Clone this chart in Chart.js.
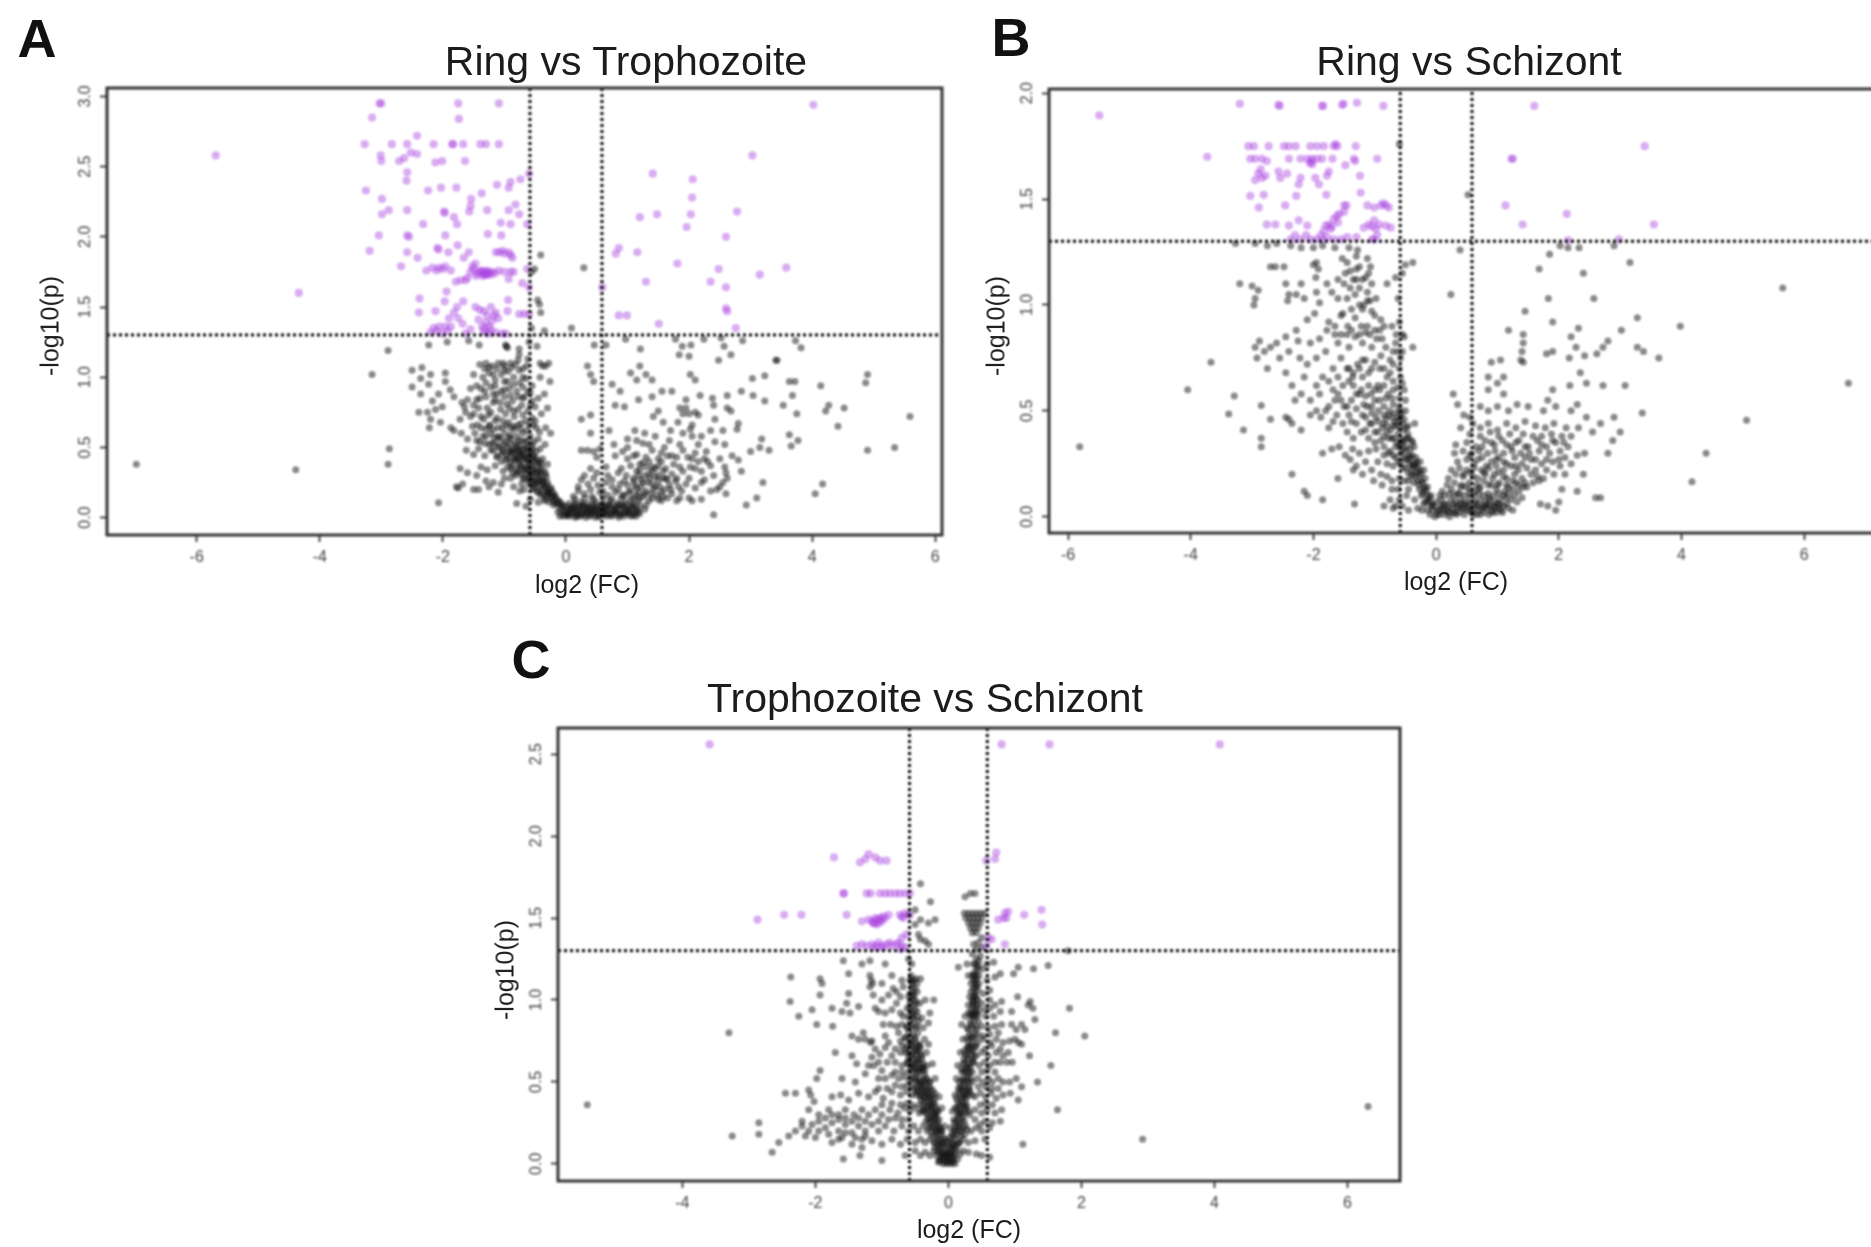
<!DOCTYPE html>
<html>
<head>
<meta charset="utf-8">
<title>Volcano plots</title>
<script src="https://cdn.jsdelivr.net/npm/chart.js@4"></script>
<style>
  html, body { margin: 0; padding: 0; background: #fff; }
  body { position: relative; width: 1871px; height: 1247px; overflow: hidden; font-family: "Liberation Sans", Arial, sans-serif; }
  canvas { position: absolute; filter: blur(0.9px); }
  .txt { position: absolute; color: #1c1c1c; white-space: nowrap; transform: translate(-50%, -50%); filter: blur(0.4px); }
  .letter { font-size: 54px; font-weight: bold; color: #111; }
  .title { font-size: 41px; }
  .axis { font-size: 25px; }
  .rot { transform: translate(-50%, -50%) rotate(-90deg); }
</style>
</head>
<body>
<canvas id="chartA" width="960" height="540" style="left:0;top:60px"></canvas>
<canvas id="chartB" width="925" height="540" style="left:960px;top:60px"></canvas>
<canvas id="chartC" width="960" height="547" style="left:480px;top:700px"></canvas>

<div class="txt letter" style="left:37px;top:38px">A</div>
<div class="txt letter" style="left:1011px;top:37px">B</div>
<div class="txt letter" style="left:531px;top:659px">C</div>
<div class="txt title" style="left:626px;top:61px">Ring vs Trophozoite</div>
<div class="txt title" style="left:1469px;top:61px">Ring vs Schizont</div>
<div class="txt title" style="left:925px;top:698px">Trophozoite vs Schizont</div>
<div class="txt axis" style="left:587px;top:584px">log2 (FC)</div>
<div class="txt axis" style="left:1456px;top:581px">log2 (FC)</div>
<div class="txt axis" style="left:969px;top:1229px">log2 (FC)</div>
<div class="txt axis rot" style="left:50px;top:326px">-log10(p)</div>
<div class="txt axis rot" style="left:996px;top:326px">-log10(p)</div>
<div class="txt axis rot" style="left:505px;top:970px">-log10(p)</div>

<script>
const fcCut = 0.585;
const pCut = 1.301;

const xTicksA = [-6, -4, -2, 0, 2, 4, 6];
const yTicksA = [0, 0.5, 1, 1.5, 2, 2.5, 3];
const xTicksB = [-6, -4, -2, 0, 2, 4, 6];
const yTicksB = [0, 0.5, 1, 1.5, 2];
const xTicksC = [-4, -2, 0, 2, 4, 6];
const yTicksC = [0, 0.5, 1, 1.5, 2, 2.5];

// Ring vs Trophozoite, significant
const sigA = [[-3.03,2.95],[-3,2.95],[-1.75,2.95],[-1.09,2.95],[-3.15,2.85],[-1.74,2.84],[-2.42,2.72],[-3.27,2.66],[-2.83,2.66],[-2.58,2.66],[-2.15,2.66],[-1.85,2.66],[-1.83,2.66],[-1.67,2.66],[-1.39,2.66],[-1.3,2.66],[-1.09,2.66],
[-3.01,2.58],[-3,2.54],[-2.52,2.6],[-2.42,2.59],[-2.63,2.56],[-2.71,2.54],[-2.12,2.53],[-2.01,2.54],[-1.64,2.54],[-2.58,2.46],[-2.59,2.4],[-0.6,2.45],[-0.74,2.41],[-0.9,2.39],[-0.93,2.35],[-1.12,2.37],[-3.25,2.33],[-2.24,2.33],[-2.03,2.35],[-1.78,2.35],[-1.37,2.31],
[-2.99,2.27],[-1.54,2.27],[-1.55,2.22],[-1.57,2.18],[-0.82,2.23],[-0.93,2.19],[-0.76,2.16],[-2.58,2.19],[-2.88,2.19],[-2.99,2.16],[-1.98,2.18],[-1.97,2.17],[-1.82,2.14],[-1.77,2.09],[-1.28,2.19],[-2.32,2.09],[-1.06,2.1],[-0.9,2.09],[-0.63,2.09],
[-3.04,2.01],[-2.58,2.01],[-2.55,2],[-1.96,2.01],[-1.27,2.02],[-1.05,2.01],[-3.19,1.9],[-2.58,1.89],[-2.09,1.92],[-2.07,1.91],[-1.76,1.94],[-1.91,1.89],[-1.58,1.89],[-1.66,1.85],[-1.14,1.89],[-1.03,1.9],[-0.93,1.89],[-0.87,1.85],[-1,1.88],[-1.09,1.89],[-0.9,1.87],
[-2.41,1.85],[-2.68,1.79],[-2.27,1.76],[-2.17,1.78],[-2.06,1.78],[-1.96,1.79],[-1.87,1.76],[-2.1,1.76],[-2,1.77],[-1.55,1.75],[-1.5,1.77],[-1.41,1.75],[-1.33,1.75],[-1.28,1.73],[-1.2,1.75],[-1.09,1.76],[-0.9,1.75],[-0.85,1.75],[-1.31,1.73],[-1.38,1.76],[-1.52,1.79],[-1.47,1.81],[-1.3,1.74],[-1.25,1.75],[-1.35,1.72],[-1,1.75],[-0.63,1.77],[-1.27,1.74],[-1.33,1.73],[-1.44,1.74],[-1.22,1.73],[-1.29,1.76],[-1.36,1.75],[-1.46,1.72],[-1.15,1.74],
[-1.63,1.69],[-1.79,1.68],[-1.71,1.69],[-1.6,1.71],[-0.93,1.7],[-0.71,1.67],[-1.94,1.61],[-0.6,1.64],[-2.38,1.56],[-1.97,1.54],[-1.67,1.54],[-0.94,1.55],[-2.39,1.46],[-2.12,1.47],[-1.82,1.46],[-1.77,1.5],[-1.47,1.5],[-1.33,1.47],[-1.14,1.46],[-0.95,1.47],[-0.76,1.45],[-0.68,1.45],[-0.6,1.45],[-1.4,1.48],[-1.75,1.42],[-1.22,1.5],[-1.1,1.42],[-1.42,1.41],[-1.9,1.42],
[-2.15,1.35],[-2.06,1.36],[-1.96,1.36],[-1.87,1.36],[-1.68,1.38],[-1.55,1.34],[-1.36,1.36],[-1.25,1.36],[-1.2,1.4],[-1.3,1.39],[-1.17,1.44],[-1.28,1.44],[-0.98,1.31],[-2.2,1.32],[-2.01,1.31],[-1.63,1.31],[-1.31,1.32],[-1.14,1.32],[-1.03,1.31],[-1.26,1.31],[-2.1,1.33],[-1.92,1.33],[-1.22,1.34],[-1.34,1.34],
[4.02,2.94],[3.03,2.58],[1.41,2.45],[2.06,2.41],[2.05,2.28],[2.78,2.18],[2.03,2.16],[1.48,2.16],[1.2,2.14],[1.96,2.07],[2.6,2],[0.86,1.92],[0.81,1.88],[1.16,1.89],[1.81,1.81],[2.48,1.77],[3.58,1.78],[3.15,1.73],[1.3,1.68],[2.35,1.68],[2.6,1.64],[0.59,1.64],[0.86,1.44],[0.99,1.44],[2.6,1.49],[2.62,1.47],[1.51,1.38],[2.76,1.35],[-5.69,2.58],[-4.34,1.6]];

// Ring vs Trophozoite, not significant
const nsA = [[0.29,1.78],[-0.41,1.87],[-0.51,1.77],[-0.56,1.75],[-0.46,1.55],[-0.43,1.52],[-0.41,1.46],[0.09,1.35],[-0.56,1.35],[-0.35,1.33],
[-2.89,1.19],[-3.15,1.02],[-2.23,1.23],[-1.93,1.25],[-1.58,1.26],[-1.41,1.23],[-0.98,1.23],[-0.97,1.22],[-0.95,1.21],[-0.76,1.2],[-0.76,1.16],[-0.6,1.25],[-0.47,1.22],[0.46,1.23],[0.65,1.23],[1.21,1.2],[0.97,1.27],[1.78,1.27],[1.89,1.22],[2.03,1.23],[1.84,1.16],[2,1.15],[2.24,1.27],[2.52,1.28],[2.57,1.22],[2.87,1.26],[3.73,1.26],[3.82,1.21],[2.68,1.16],[2.48,1.12],[3.41,1.12],
[-2.5,1.05],[-2.34,1.07],[-2.2,1.02],[-2.36,0.99],[-2.23,0.95],[-2.5,0.93],[-1.96,1.03],[-1.96,0.97],[-2.36,0.88],[-1.88,0.91],[-2.07,0.88],[-2.17,0.83],[-1.82,0.86],[-1.69,0.82],[-1.65,0.79],[-1.63,0.75],[-2.39,0.75],[-2.25,0.75],[-2.12,0.77],[-2.01,0.79],[-2.2,0.7],[-2.04,0.68],[-2.22,0.64],[-1.87,0.64],[-1.82,0.62],
[-1.4,1.09],[-1.3,1.1],[-1.2,1.08],[-1.1,1.1],[-1,1.08],[-0.9,1.1],[-0.78,1.12],[-0.7,1.06],[-0.62,1.13],[-0.42,1.1],[-0.38,1.08],[-0.33,1.08],[-0.28,1.1],[-0.42,1],[-1.5,1.02],[-1.35,1],[-1.25,1.03],[-1.15,0.98],[-1.05,1.02],[-0.95,0.97],[-0.85,1],[-0.75,0.96],[-0.65,0.99],[-0.55,0.94],[-0.26,0.97],
[-1.55,0.92],[-1.45,0.94],[-1.32,0.9],[-1.22,0.93],[-1.12,0.88],[-1,0.91],[-0.9,0.87],[-0.8,0.9],[-0.68,0.86],[-0.58,0.89],[-0.45,0.85],[-0.35,0.88],[-1.6,0.84],[-1.5,0.8],[-1.4,0.85],[-1.28,0.78],[-1.18,0.82],[-1.06,0.77],[-0.96,0.81],[-0.85,0.76],[-0.72,0.8],[-0.62,0.76],[-0.5,0.79],[-0.4,0.74],[-0.3,0.78],
[-1.72,0.7],[-1.55,0.72],[-1.44,0.66],[-1.34,0.7],[-1.25,0.65],[-1.15,0.69],[-1.03,0.64],[-0.93,0.68],[-0.83,0.63],[-0.73,0.67],[-0.63,0.62],[-0.53,0.66],[-0.43,0.61],[-0.33,0.64],[-0.25,0.6],[-1.7,0.6],[-1.6,0.56],[-1.48,0.6],[-1.4,0.54],[-1.3,0.58],[-1.2,0.53],[-1.1,0.57],[-1,0.52],[-0.9,0.56],[-0.8,0.51],[-0.72,0.55],[-0.62,0.5],[-0.52,0.54],[-0.42,0.49],[-0.34,0.52],
[-1.62,0.48],[-1.5,0.45],[-1.42,0.49],[-1.32,0.44],[-1.22,0.48],[-1.12,0.43],[-1.02,0.47],[-0.94,0.42],[-0.86,0.46],[-0.78,0.41],[-0.7,0.45],[-0.62,0.4],[-0.54,0.44],[-0.46,0.39],[-0.38,0.42],[-0.3,0.38],[-0.72,0.36],[-0.64,0.34],[-0.56,0.37],[-0.48,0.33],[-0.4,0.35],[-0.33,0.31],
[-1.72,0.35],[-1.6,0.32],[-1.38,0.36],[-1.28,0.34],[-1.15,0.37],[-1.02,0.33],[-0.9,0.35],[-0.82,0.3],[-0.7,0.28],[-0.6,0.29],[-0.52,0.26],[-0.44,0.27],[-0.37,0.24],[-0.3,0.25],[-0.24,0.21],[-1.78,0.22],[-1.68,0.24],[-1.42,0.2],[-1.18,0.25],[-1.05,0.24],[-0.85,0.22],[-0.75,0.19],[-0.55,0.2],[-0.46,0.18],[-0.38,0.17],[-0.3,0.18],[-0.24,0.14],[-0.18,0.15],[-0.58,0.13],[-0.8,0.1],[-0.65,0.08],[-0.45,0.11],[-0.35,0.12],[-0.2,0.09],[-0.15,0.1],[-0.1,0.06],[-0.13,0.04],[-0.08,0.09],
[-0.06,0.02],[-0.02,0.01],[0.02,0.03],[0.05,0.01],[0.08,0.04],[0.12,0.02],[0.15,0],[0.18,0.03],[0.22,0.01],[0.25,0.04],[0.28,0.02],[0.32,0],[0.35,0.03],[0.38,0.01],[0.42,0.04],[0.45,0.02],[0.48,0],[0.52,0.03],[0.55,0.01],[0.58,0.04],[0.62,0.02],[0.66,0.01],[0.7,0.03],[0.74,0.01],[0.78,0.04],[0.82,0.02],[0.86,0],[0.9,0.03],[0.94,0.01],[0.98,0.04],[1.02,0.02],[1.06,0.01],[1.1,0.03],[1.14,0.01],[1.2,0.03],
[0,0.05],[0.05,0.06],[0.1,0.07],[0.16,0.05],[0.22,0.07],[0.28,0.06],[0.34,0.07],[0.4,0.05],[0.46,0.07],[0.52,0.06],[0.58,0.07],[0.64,0.05],[0.7,0.07],[0.76,0.06],[0.82,0.07],[0.88,0.05],[0.94,0.07],[1,0.06],[1.08,0.07],[1.16,0.05],[0.05,0.1],[0.14,0.1],[0.25,0.11],[0.36,0.1],[0.48,0.11],[0.6,0.1],[0.72,0.12],[0.84,0.1],[0.96,0.11],[1.08,0.1],[1.18,0.12],[1.3,0.09],
[0.12,0.15],[0.3,0.17],[0.42,0.15],[0.55,0.18],[0.68,0.16],[0.8,0.18],[0.92,0.16],[1.02,0.18],[1.14,0.16],[1.26,0.15],[1.4,0.14],[1.55,0.12],[0.2,0.22],[0.36,0.24],[0.52,0.23],[0.65,0.25],[0.75,0.22],[0.88,0.24],[1,0.23],[1.1,0.26],[1.22,0.22],[1.33,0.25],[1.45,0.22],[1.6,0.2],[1.72,0.17],[1.85,0.14],[2.05,0.12],[2.4,0.02],[2.6,0.17],[2.93,0.09],[3.1,0.14],
[0.3,0.3],[0.5,0.32],[0.68,0.3],[0.85,0.32],[0.98,0.3],[1.15,0.33],[1.28,0.3],[1.4,0.33],[1.5,0.3],[1.65,0.27],[1.8,0.28],[1.95,0.24],[2.2,0.25],[2.45,0.2],[2.62,0.28],[2.85,0.33],[3.2,0.25],[1.2,0.38],[1.35,0.4],[1.5,0.37],[1.62,0.35],[1.75,0.38],[1.9,0.33],[2.02,0.36],[2.2,0.33],[2.4,0.3],[2.58,0.36],
[0.25,0.48],[0.35,0.48],[0.45,0.47],[0.55,0.49],[0.78,0.52],[0.92,0.47],[1,0.5],[1.15,0.45],[1.25,0.53],[1.4,0.48],[1.55,0.46],[1.72,0.44],[1.9,0.48],[2.1,0.46],[2.28,0.47],[2.5,0.42],[2.8,0.41],[3,0.47],[3.15,0.5],[3.3,0.48],[3.18,0.56],[0.4,0.6],[0.7,0.62],[1,0.56],[1.12,0.62],[1.28,0.6],[1.45,0.58],[1.68,0.55],[2.05,0.58],[2.42,0.54],[2.58,0.52],
[0.25,0.7],[0.4,0.73],[0.8,0.8],[0.95,0.79],[1.42,0.72],[1.58,0.68],[1.82,0.68],[2.02,0.63],[2.05,0.66],[2.42,0.7],[2.78,0.63],[2.8,0.67],[1.5,0.76],[1.85,0.78],[1.9,0.74],[2.1,0.75],[2.15,0.73],[2.4,0.8],[2.62,0.78],[2.68,0.76],[0.75,0.95],[0.88,0.9],[1.18,0.84],[1.4,0.86],[1.56,0.9],[1.72,0.9],[1.95,0.84],[2.18,0.87],[2.38,0.85],[2.62,0.87],[2.85,0.9],[3.04,0.87],
[0.35,1.08],[0.4,1.02],[1.05,1.03],[1.2,1.08],[1.3,1.02],[1.4,0.98],[2.02,1.02],[2.1,0.98],[0.45,0.97],[1.15,0.98],
[4.9,1.02],[4.87,0.96],[4.14,0.94],[3.63,0.97],[3.72,0.97],[3.23,1.01],[3.03,0.99],[3.43,1.12],[5.59,0.72],[4.52,0.78],[4.27,0.8],[4.22,0.76],[4.42,0.65],[3.75,0.74],[3.53,0.8],[3.68,0.87],[3.23,0.83],[4.9,0.48],[5.34,0.5],[3.63,0.59],[3.77,0.55],[3.66,0.51],[4.17,0.24],[4.05,0.17],[-6.98,0.38],[-4.39,0.34],[-2.87,0.49],[-2.89,0.38],[-2.07,0.105],[-1.75,0.21]];

// dense part of the Ring vs Trophozoite cloud
const coreA = [[-0.33,0.13],[-0.27,0.11],[-0.21,0.12],[-0.16,0.1],[-0.12,0.12],[-0.41,0.16],[-0.34,0.15],[-0.29,0.17],[-0.23,0.15],[-0.18,0.16],[-0.52,0.21],[-0.46,0.19],[-0.4,0.2],[-0.35,0.22],[-0.29,0.19],[-0.25,0.2],[-0.6,0.24],[-0.53,0.23],[-0.47,0.25],[-0.42,0.23],[-0.36,0.26],[-0.3,0.23],
[-0.68,0.28],[-0.62,0.27],[-0.55,0.29],[-0.5,0.28],[-0.44,0.3],[-0.38,0.27],[-0.32,0.29],[-0.8,0.32],[-0.72,0.31],[-0.66,0.33],[-0.6,0.31],[-0.54,0.33],[-0.47,0.32],[-0.41,0.31],[-0.35,0.33],[-0.95,0.36],[-0.87,0.37],[-0.8,0.35],[-0.74,0.37],[-0.67,0.36],[-0.6,0.38],[-0.53,0.35],[-0.46,0.37],[-0.4,0.38],
[-1.05,0.4],[-0.98,0.41],[-0.9,0.39],[-0.82,0.41],[-0.76,0.39],[-0.7,0.41],[-0.62,0.42],[-0.55,0.4],[-0.48,0.42],[-0.42,0.4],[-1.12,0.44],[-1.04,0.45],[-0.96,0.44],[-0.9,0.46],[-0.82,0.43],[-0.75,0.46],[-0.68,0.44],[-0.6,0.46],[-0.52,0.44],[-1.18,0.48],[-1.1,0.5],[-1.03,0.48],[-0.95,0.5],[-0.88,0.48],[-0.8,0.49],[-0.72,0.47],[-0.65,0.5],[-0.57,0.48],[-0.48,0.47],
[-1.25,0.52],[-1.15,0.53],[-1.08,0.51],[-0.98,0.54],[-0.9,0.52],[-0.83,0.53],[-0.75,0.51],[-0.66,0.54],[-0.55,0.52],[-1.35,0.58],[-1.22,0.6],[-1.1,0.58],[-1,0.6],[-0.9,0.59],[-0.8,0.58],[-0.7,0.6],[-0.58,0.58],[-0.45,0.56],[-1.38,0.64],[-1.24,0.66],[-1.1,0.64],[-0.97,0.66],[-0.85,0.65],[-0.73,0.63],[-0.6,0.66],[-0.48,0.64],
[-1.5,0.74],[-1.38,0.72],[-1.26,0.73],[-1.12,0.71],[-0.98,0.74],[-0.84,0.72],[-0.7,0.73],[-0.55,0.71],[-1.45,0.84],[-1.3,0.86],[-1.15,0.84],[-1,0.86],[-0.87,0.83],[-0.7,0.85],[-0.55,0.83],[-1.3,0.96],[-1.15,0.94],[-1,0.97],[-0.85,0.95],[-0.7,0.93],[-1.25,1.07],[-1.12,1.06],[-1,1.05],[-0.88,1.07],[-0.76,1.05],[-0.64,1.08],[-1.5,0.2],[-1.3,0.26],[-1.1,0.18],[-0.9,0.28],[-1.45,0.3],[-1.25,0.22],[-1,0.28],[-0.68,0.2],[-0.72,0.24],
[-0.1,0.01],[-0.03,0.04],[0.04,0.02],[0.11,0.04],[0.18,0.01],[0.25,0.02],[0.32,0.04],[0.39,0.02],[0.46,0.04],[0.53,0.01],[0.6,0.03],[0.67,0.04],[0.74,0.02],[0.81,0.04],[0.88,0.02],[0.95,0.03],[1.03,0.04],[1.1,0.02],[1.17,0.04],[-0.06,0.07],[0.01,0.08],[0.08,0.07],[0.15,0.09],[0.22,0.08],[0.29,0.09],[0.36,0.07],[0.43,0.09],[0.5,0.08],[0.57,0.09],[0.64,0.08],[0.71,0.09],[0.78,0.08],[0.85,0.09],[0.92,0.08],[0.99,0.09],[1.06,0.08],[1.13,0.09],[1.2,0.08],[1.28,0.06],
[0.15,0.13],[0.3,0.14],[0.45,0.13],[0.6,0.14],[0.75,0.13],[0.9,0.14],[1.05,0.13],[1.2,0.14],[1.35,0.12],[1.5,0.13],[1.65,0.14],[1.8,0.12],[2,0.14],[2.2,0.13],[0.2,0.19],[0.4,0.2],[0.6,0.19],[0.85,0.2],[1.05,0.19],[1.15,0.21],[1.3,0.19],[1.42,0.2],[1.55,0.18],[1.7,0.2],[1.88,0.19],[2.1,0.21],[2.35,0.19],[2.5,0.22],
[0.25,0.27],[0.45,0.28],[0.75,0.27],[0.95,0.26],[1.1,0.28],[1.22,0.27],[1.36,0.28],[1.5,0.26],[1.62,0.28],[1.78,0.26],[2,0.28],[2.25,0.27],[2.55,0.25],[0.4,0.35],[0.65,0.36],[0.9,0.35],[1.05,0.37],[1.2,0.34],[1.3,0.36],[1.45,0.35],[1.58,0.33],[1.85,0.36],[2.1,0.35],[2.35,0.37],[2.6,0.32],[0.5,0.43],[0.8,0.44],[1,0.42],[1.1,0.44],[1.3,0.43],[1.5,0.42],[1.65,0.44],[1.8,0.43],[2.05,0.42],[2.3,0.4],[2.7,0.44],[1.15,0.55],[1.35,0.52],[1.6,0.5],[1.85,0.52],[2.15,0.52],[1.7,0.62],[2,0.74],[1.95,0.78],[2.35,0.62],[2.55,0.62],
[-0.85,0.42],[-0.78,0.44],[-0.72,0.43],[-0.65,0.42],[-0.58,0.43],[-0.5,0.41],[-0.92,0.47],[-0.84,0.48],[-0.77,0.47],[-0.7,0.49],[-0.62,0.47],[-0.54,0.49],[-0.87,0.32],[-0.76,0.33],[-0.63,0.35],[-0.56,0.32],[-0.43,0.33],[-0.57,0.26],[-0.49,0.24],[-0.41,0.26],[-0.33,0.21],[-0.27,0.17],[-0.21,0.18],[-0.15,0.13],[-0.09,0.11],[-0.05,0.09],
[-1.45,0.55],[-1.32,0.53],[-1.17,0.57],[-1.05,0.56],[-0.93,0.57],[-0.77,0.55],[-0.63,0.55],[-1.52,0.65],[-1.3,0.63],[-1.18,0.63],[-1.03,0.69],[-0.9,0.64],[-0.78,0.66],[-0.65,0.69],[-0.5,0.69],[-1.42,0.78],[-1.22,0.75],[-1.07,0.82],[-0.92,0.78],[-0.78,0.77],[-0.58,0.8],[-1.38,0.92],[-1.18,0.88],[-1.05,0.9],[-0.92,0.92],[-0.78,0.86],[-0.62,0.9],[-1.32,1.06],[-1.18,1.02],[-1.02,1.1],[-0.94,1.04],[-0.82,1.09],[-0.7,1],
[0.02,0.02],[0.13,0.07],[0.2,0.05],[0.27,0.09],[0.34,0.05],[0.41,0.07],[0.5,0.05],[0.62,0.06],[0.68,0.09],[0.8,0.05],[0.9,0.09],[1.01,0.05],[1.12,0.06],[0.95,0.16],[1.1,0.14],[1.18,0.18],[1.28,0.17],[1.38,0.17],[1.48,0.16],[1.58,0.15],[1.12,0.23],[1.25,0.25],[1.4,0.24],[1.52,0.22],[1.68,0.23],[1.83,0.22],[1.18,0.3],[1.35,0.31],[1.45,0.29],[1.58,0.28],[1.72,0.31],[1.25,0.39],[1.4,0.36],[1.55,0.4],[2.25,0.42],[1.98,0.43],[2.15,0.4],[1.9,0.6],[2.2,0.58]];

// Ring vs Schizont, significant
const sigB = [[-3.2,1.95],[-2.57,1.945],[-2.55,1.94],[-1.86,1.94],[-1.84,1.94],[-1.53,1.945],[-1.51,1.95],[-1.29,1.955],[-0.86,1.94],[1.6,1.94],[-5.49,1.895],[-3.73,1.7],
[-3.06,1.75],[-2.97,1.75],[-2.73,1.75],[-2.48,1.75],[-2.4,1.75],[-2.29,1.75],[-2.05,1.75],[-1.94,1.75],[-1.83,1.75],[-1.67,1.75],[-1.61,1.75],[-1.64,1.76],[-1.31,1.75],
[-3.03,1.69],[-2.95,1.69],[-2.84,1.69],[-2.76,1.68],[-2.4,1.69],[-2.21,1.69],[-2.1,1.69],[-2.02,1.69],[-2.03,1.68],[-1.94,1.69],[-1.86,1.69],[-1.69,1.69],[-1.34,1.69],[-1.32,1.68],[-0.96,1.69],[-2.02,1.665],[-2.06,1.67],
[-2.86,1.64],[-2.57,1.63],[-2.43,1.62],[-2.78,1.61],[-2.95,1.59],[-2.84,1.6],[-2.54,1.6],[-2.21,1.6],[-2.24,1.57],[-1.97,1.6],[-1.91,1.57],[-1.75,1.63],[-1.78,1.61],[-1.48,1.66],[-1.24,1.61],[-2.9,1.62],
[-3.03,1.515],[-2.81,1.52],[-2.28,1.515],[-1.79,1.52],[-1.23,1.53],[-2.89,1.46],[-2.46,1.47],[-1.5,1.47],[-1.46,1.47],[-1.12,1.47],[-1.01,1.46],[-0.9,1.47],[-0.82,1.47],[-0.77,1.46],[-0.86,1.48],
[-2.76,1.38],[-2.62,1.38],[-2.4,1.375],[-2.24,1.4],[-2.1,1.375],[-1.8,1.375],[-1.75,1.38],[-1.67,1.405],[-1.58,1.43],[-1.62,1.42],[-1.18,1.365],[-1.1,1.38],[-1.01,1.4],[-0.93,1.38],[-0.82,1.375],[-0.74,1.365],[-1.72,1.36],[-1.05,1.37],[-1.6,1.39],[-1.7,1.37],[-0.98,1.36],[-1.5,1.44],
[-2.37,1.31],[-2.21,1.31],[-2.05,1.31],[-1.88,1.33],[-1.83,1.35],[-1.67,1.31],[-1.45,1.32],[-1.01,1.31],[-0.96,1.33],[-1.04,1.31],[-1.78,1.32],[-1.55,1.31],[-2.3,1.33],[-2.12,1.33],[-1.95,1.31],[-1.85,1.31],[-1.3,1.32],
[3.4,1.75],[1.23,1.69],[1.25,1.69],[1.13,1.47],[2.13,1.43],[1.41,1.38],[3.55,1.38],[2.15,1.305],[2.98,1.31]];

// Ring vs Schizont, not significant
const nsB = [[-0.6,1.76],[0.52,1.52],[-3.27,1.29],[-2.95,1.29],[-2.75,1.28],[-2.6,1.29],[-2.37,1.28],[-2.2,1.27],[-2,1.27],[-1.85,1.28],[-1.65,1.27],[-1.42,1.27],[-1.28,1.26],[-1.3,1.23],[0.39,1.26],[2.33,1.27],[2.02,1.28],[2.15,1.27],[2.9,1.28],
[-1.95,1.2],[-1.92,1.17],[-2,1.19],[-1.96,1.13],[-1.53,1.22],[-1.45,1.2],[-1.4,1.16],[-1.25,1.18],[-1.12,1.22],[-1.07,1.18],[-1.15,1.13],[-1.05,1.1],[-2.7,1.18],[-2.62,1.18],[-2.48,1.18],[-0.66,1.13],[-0.5,1.19],[-0.38,1.2],[-0.55,1.15],[1.85,1.24],[1.68,1.17],[2.4,1.15],[3.16,1.2],
[-3.2,1.1],[-3,1.09],[-2.95,1.03],[-2.97,1],[-2.9,1.07],[-2.45,1.1],[-2.4,1.05],[-2.42,1.02],[-2.28,1.05],[-2.15,1.03],[-2.2,1.1],[-1.95,1.06],[-1.9,1.01],[-1.78,1.1],[-1.7,1.06],[-1.6,1.03],[-1.5,1.1],[-1.4,1.08],[-1.32,1.05],[-1.25,1.08],[-1.18,1],[-1.12,1.06],[-1.08,1.02],[-0.8,1.1],[-0.62,1.03],
[-2.1,0.93],[-1.98,0.96],[-2.28,0.88],[-1.75,0.92],[-1.65,0.9],[-1.52,0.96],[-1.44,0.9],[-1.32,0.94],[-1.2,0.98],[-1.12,0.9],[-1,0.95],[-0.92,0.88],[-0.72,0.9],[-0.55,0.86],[-1.78,0.88],[-1.65,0.86],[-1.45,0.86],[-1.32,0.85],[-1.2,0.82],[-1.08,0.86],[-0.97,0.84],[-0.82,0.8],[-0.66,0.82],[-0.52,0.85],
[-2.45,0.85],[-2.6,0.82],[-2.7,0.8],[-2.8,0.78],[-2.88,0.83],[-2.95,0.8],[-2.75,0.7],[-2.92,0.75],[-2.55,0.75],[-2.4,0.78],[-2.22,0.75],[-2.1,0.72],[-1.95,0.75],[-1.8,0.78],[-1.68,0.7],[-1.55,0.75],[-1.42,0.7],[-1.28,0.72],[-1.15,0.74],[-1,0.73],[-0.85,0.7],[-0.7,0.72],[-0.58,0.75],[-0.38,0.8],
[-2.45,0.68],[-2.35,0.62],[-2.15,0.66],[-1.95,0.62],[-1.75,0.64],[-1.6,0.58],[-1.52,0.62],[-1.36,0.66],[-1.35,0.68],[-1.2,0.66],[-1.1,0.62],[-0.95,0.62],[-0.8,0.66],[-0.7,0.6],[-0.58,0.66],[-0.52,0.6],[-2.2,0.58],[-2.3,0.55],[-2.05,0.55],[-1.9,0.58],[-1.75,0.52],[-1.65,0.55],[-1.5,0.52],[-1.38,0.55],[-1.25,0.58],[-1.12,0.52],[-1,0.55],[-0.85,0.52],[-0.72,0.56],[-0.6,0.52],[-0.5,0.5],
[-2.05,0.48],[-1.88,0.47],[-1.75,0.42],[-1.62,0.48],[-1.52,0.44],[-1.42,0.48],[-1.3,0.44],[-1.2,0.48],[-1.08,0.44],[-0.98,0.47],[-0.86,0.44],[-0.78,0.48],[-0.68,0.45],[-0.58,0.47],[-0.46,0.43],[-0.35,0.44],[-0.4,0.36],[-1.45,0.4],[-1.35,0.37],[-1.22,0.4],[-1.1,0.37],[-1,0.4],[-0.9,0.36],[-0.8,0.4],[-0.72,0.37],[-0.62,0.39],[-0.55,0.35],[-0.48,0.37],[-2.35,0.44],[-2.2,0.41],[-2.45,0.47],
[-1.85,0.3],[-1.7,0.32],[-1.58,0.33],[-1.48,0.29],[-1.36,0.32],[-1.25,0.3],[-1.1,0.31],[-0.98,0.32],[-0.85,0.29],[-0.75,0.31],[-0.66,0.28],[-0.58,0.3],[-0.5,0.27],[-0.44,0.29],[-0.38,0.25],[-0.32,0.26],[-0.55,0.23],[-0.46,0.21],[-0.4,0.22],[-0.34,0.19],[-0.28,0.2],[-0.22,0.16],[-0.28,0.15],[-0.36,0.16],[-0.16,0.12],[-0.22,0.11],[-0.14,0.08],[-0.1,0.09],[-0.06,0.06],[-0.18,0.07],
[-2.35,0.2],[-2.15,0.12],[-1.33,0.06],[-1.35,0.22],[-1.2,0.2],[-1.05,0.22],[-1.02,0.17],[-0.88,0.15],[-0.72,0.13],[-0.72,0.17],[-0.66,0.05],[-0.7,0.04],[-0.6,0.08],[-0.48,0.1],[-0.45,0.13],[-0.35,0.08],[-0.45,0.03],[-0.3,0.04],[-0.23,0.03],
[-0.1,0.01],[-0.06,0.03],[-0.02,0],[0.02,0.03],[0.06,0.01],[0.1,0.04],[0.14,0.01],[0.18,0.03],[0.22,0],[0.26,0.04],[0.3,0.02],[0.34,0.05],[0.38,0.02],[0.42,0.04],[0.46,0.01],[0.5,0.03],[0.54,0.05],[0.58,0.02],[0.62,0.04],[0.66,0.01],[0.7,0.03],[0.74,0.05],[0.78,0.02],[0.82,0.04],[0.86,0.01],[0.9,0.03],[0.94,0.05],[0.98,0.02],[1.02,0.04],[1.06,0.03],[1.1,0.05],[1.18,0.04],[1.25,0.03],
[0,0.07],[0.08,0.08],[0.16,0.06],[0.24,0.08],[0.32,0.07],[0.4,0.08],[0.48,0.07],[0.56,0.09],[0.64,0.07],[0.72,0.08],[0.8,0.07],[0.88,0.08],[0.96,0.07],[1.04,0.08],[1.14,0.09],[1.22,0.08],[1.32,0.07],[0.1,0.12],[0.25,0.13],[0.35,0.11],[0.48,0.14],[0.62,0.12],[0.72,0.14],[0.85,0.11],[0.98,0.13],[1.12,0.12],[1.25,0.13],[1.35,0.12],[1.48,0.14],[1.7,0.06],[1.82,0.05],[1.95,0.03],[2,0.07],
[0.2,0.18],[0.32,0.2],[0.44,0.19],[0.56,0.21],[0.68,0.18],[0.8,0.2],[0.92,0.18],[1.02,0.21],[1.15,0.18],[1.28,0.2],[1.4,0.18],[1.55,0.2],[1.68,0.17],[1.8,0.22],[2.1,0.2],[2.4,0.2],[2.6,0.09],[2.68,0.09],[2.3,0.12],[2.05,0.13],[0.35,0.26],[0.5,0.27],[0.62,0.25],[0.75,0.28],[0.9,0.26],[1.02,0.28],[1.15,0.25],[1.28,0.28],[1.4,0.25],[1.55,0.27],[1.72,0.25],[1.9,0.26],[2.1,0.28],
[0.32,0.34],[0.5,0.35],[0.65,0.33],[0.8,0.36],[0.95,0.34],[1.08,0.36],[1.22,0.33],[1.35,0.36],[1.5,0.33],[1.65,0.36],[1.8,0.33],[1.95,0.35],[2.15,0.33],[2.42,0.3],[2.8,0.3],[2.88,0.36],[0.4,0.42],[0.6,0.44],[0.72,0.42],[0.85,0.44],[1,0.41],[1.15,0.44],[1.3,0.42],[1.45,0.45],[1.62,0.43],[1.78,0.42],[1.92,0.44],[2.12,0.42],[2.32,0.42],[2.55,0.4],[2.68,0.44],[2.9,0.47],[3,0.4],
[0.28,0.58],[0.35,0.53],[0.45,0.48],[0.55,0.47],[0.72,0.52],[0.85,0.5],[1,0.52],[1.18,0.5],[1.32,0.53],[1.5,0.52],[1.75,0.5],[1.95,0.52],[2.2,0.5],[2.3,0.53],[2.45,0.47],[0.85,0.6],[1,0.63],[1.1,0.58],[1.82,0.55],[1.9,0.6],[2.18,0.62],[2.45,0.63],[0.9,0.73],[1.05,0.74],[0.85,0.66],[1.1,0.66],[1.42,0.73],[1.9,0.78],[2.35,0.68],[2.72,0.62],
[1.42,0.82],[1.4,0.78],[1.38,0.74],[1.42,0.86],[1.8,0.77],[2.17,0.75],[2.28,0.8],[2.42,0.76],[2.62,0.77],[2.72,0.8],[3.28,0.8],[3.38,0.78],[1.18,0.88],[2.2,0.85],[2.32,0.89],[2.8,0.83],[3.02,0.88],[1.9,0.92],[1.45,0.97],[3.28,0.94],[3.98,0.9],[3.63,0.75],[3.36,0.49],[3.08,0.62],[0.24,1.05],[1.83,1.03],[2.57,1.03],
[5.65,1.08],[6.72,0.63],[5.06,0.455],[4.4,0.3],[4.17,0.165],[-5.81,0.33],[-4.05,0.6],[-3.67,0.73],[-3.29,0.57],[-3.38,0.485],[-2.85,0.525],[-2.85,0.37],[-2.85,0.33],[-3.14,0.41],[-2.7,0.46],[-2.4,0.46],[-2.1,0.1]];

// dense part of the Ring vs Schizont cloud
const coreB = [[-0.14,0.03],[-0.08,0.05],[-0.2,0.06],[-0.14,0.1],[-0.08,0.1],[-0.24,0.1],[-0.2,0.13],[-0.27,0.13],[-0.14,0.14],[-0.3,0.17],[-0.24,0.17],[-0.18,0.18],[-0.38,0.2],[-0.32,0.21],[-0.26,0.22],[-0.2,0.22],[-0.44,0.25],[-0.38,0.24],[-0.32,0.25],[-0.26,0.26],[-0.52,0.28],[-0.45,0.27],[-0.39,0.29],[-0.33,0.28],[-0.6,0.33],[-0.54,0.32],[-0.48,0.33],[-0.42,0.32],[-0.36,0.33],[-0.7,0.37],[-0.64,0.35],[-0.58,0.37],[-0.52,0.36],[-0.45,0.37],[-0.38,0.35],
[-0.88,0.42],[-0.8,0.43],[-0.74,0.41],[-0.66,0.43],[-0.6,0.42],[-0.53,0.41],[-0.46,0.39],[-1.15,0.47],[-1.05,0.49],[-0.94,0.5],[-0.85,0.48],[-0.76,0.5],[-0.68,0.49],[-0.6,0.5],[-0.52,0.46],[-1.45,0.52],[-1.3,0.51],[-1.18,0.53],[-1.05,0.52],[-0.92,0.55],[-0.82,0.56],[-0.7,0.53],[-0.6,0.56],[-0.5,0.55],[-1.35,0.62],[-1.22,0.6],[-1.06,0.58],[-0.92,0.6],[-0.78,0.58],[-0.62,0.61],[-1.6,0.66],[-1.42,0.64],[-1.25,0.7],[-1.1,0.68],[-0.92,0.7],[-0.75,0.68],[-0.6,0.7],[-1.85,0.66],[-1.68,0.6],
[-1.95,0.5],[-1.8,0.5],[-1.68,0.45],[-1.55,0.55],[-1.38,0.45],[-1.15,0.41],[-1,0.35],[-0.85,0.33],[-1.4,0.27],[-1.3,0.24],[-1.15,0.26],[-0.95,0.26],[-0.8,0.25],[-0.7,0.24],[-0.62,0.26],[-0.9,0.2],[-0.8,0.19],[-0.6,0.18],[-0.52,0.17],[-0.45,0.17],[-1.6,0.18],[-1.85,0.08],[-0.85,0.05],[-0.75,0.08],[-0.62,0.13],[-0.55,0.05],
[-1.55,0.95],[-1.38,0.98],[-1.22,0.9],[-1.05,0.97],[-0.9,0.93],[-0.6,0.92],[-1.6,0.82],[-1.42,0.8],[-1.25,0.86],[-1.05,0.8],[-0.88,0.84],[-0.7,0.78],[-0.55,0.78],[-1.9,0.84],[-2.05,0.82],[-2.25,0.83],[-1.48,1.15],[-1.6,1.12],[-1.3,1.12],[-1.2,1.12],[-1.1,1.15],[-1.3,1.17],
[-0.04,0.05],[0.02,0.01],[0.08,0.05],[0.14,0.03],[0.2,0.05],[0.27,0.02],[0.33,0.01],[0.4,0.06],[0.46,0.04],[0.52,0.06],[0.6,0.01],[0.68,0.05],[0.76,0.04],[0.84,0.06],[0.92,0.02],[1,0.06],[1.08,0.02],[1.15,0.06],[0.06,0.1],[0.14,0.1],[0.22,0.11],[0.3,0.1],[0.38,0.11],[0.46,0.1],[0.54,0.11],[0.62,0.1],[0.7,0.11],[0.78,0.1],[0.86,0.09],[0.94,0.1],[1.02,0.11],[1.1,0.1],[1.18,0.11],[1.28,0.1],[1.4,0.09],
[0.18,0.15],[0.3,0.16],[0.42,0.15],[0.54,0.16],[0.66,0.15],[0.78,0.17],[0.9,0.15],[1.03,0.16],[1.15,0.15],[1.3,0.16],[1.42,0.14],[1.58,0.16],[0.25,0.22],[0.38,0.23],[0.5,0.22],[0.62,0.23],[0.74,0.22],[0.86,0.23],[0.98,0.24],[1.1,0.22],[1.22,0.24],[1.34,0.22],[1.48,0.23],[1.62,0.22],[1.75,0.18],[1.92,0.2],[2.02,0.24],[0.3,0.3],[0.44,0.31],[0.58,0.3],[0.7,0.31],[0.84,0.3],[0.96,0.31],[1.1,0.3],[1.24,0.31],[1.38,0.3],[1.52,0.3],[1.68,0.31],[1.85,0.3],[2.02,0.31],[2.2,0.25],[2.3,0.29],[0.55,0.39],[0.72,0.38],[0.88,0.4],[1.02,0.38],[1.2,0.39],[1.42,0.39],[1.58,0.38],[1.72,0.38],[1.88,0.39],[2.05,0.38],[2.2,0.38],
[-0.95,0.4],[-0.85,0.38],[-0.78,0.37],[-0.7,0.43],[-0.62,0.45],[-0.55,0.44],[-0.48,0.42],[-1.05,0.44],[-0.95,0.45],[-0.82,0.46],[-0.72,0.47],[-0.62,0.47],[-0.56,0.49],[-0.66,0.33],[-0.58,0.35],[-0.5,0.31],[-0.42,0.28],[-0.36,0.24],[-0.3,0.23],[-0.24,0.2],[-0.18,0.14],[-0.12,0.07],[-0.78,0.3],[-0.7,0.29],[-0.58,0.25],[-0.5,0.23],[-0.42,0.19],
[-1.3,0.58],[-1.15,0.57],[-1,0.6],[-0.85,0.62],[-0.7,0.64],[-0.55,0.63],[-1.45,0.7],[-1.2,0.74],[-1.05,0.7],[-0.9,0.76],[-0.75,0.74],[-0.62,0.78],[-1.55,0.86],[-1.38,0.88],[-1.15,0.87],[-1,0.88],[-0.85,0.9],[-0.65,0.86],[-1.45,1.03],[-1.25,1],[-1.12,1.02],[-0.98,1.03],[-1.35,1.12],
[0.05,0.03],[0.12,0.06],[0.2,0.02],[0.28,0.06],[0.36,0.04],[0.44,0.06],[0.56,0.03],[0.64,0.06],[0.72,0.01],[0.8,0.05],[0.88,0.05],[0.96,0.04],[1.04,0.06],[0.4,0.14],[0.55,0.13],[0.7,0.13],[0.85,0.15],[1,0.15],[1.18,0.14],[1.35,0.15],[0.45,0.2],[0.6,0.19],[0.78,0.21],[0.95,0.2],[1.1,0.19],[1.25,0.17],[1.45,0.16],[1.65,0.19],[0.55,0.29],[0.68,0.27],[0.82,0.24],[0.98,0.27],[1.1,0.26],[1.3,0.24],[1.45,0.28],[1.62,0.27],[1.8,0.27],[2,0.27],[0.75,0.33],[0.9,0.35],[1.15,0.34],[1.3,0.35],[1.45,0.33],[1.72,0.34],[1.9,0.36],[2.08,0.35]];

// Trophozoite vs Schizont, significant
const sigC = [[-3.59,2.56],[0.8,2.56],[1.52,2.56],[4.08,2.56],[-1.72,1.87],[-1.33,1.84],[-1.2,1.89],[-1.25,1.86],[-1.1,1.87],[-1.03,1.85],[-0.93,1.85],[0.72,1.9],[0.7,1.86],[0.57,1.85],
[-1.58,1.65],[-1.57,1.65],[-1.23,1.65],[-1.17,1.65],[-1.03,1.65],[-0.95,1.65],[-0.88,1.65],[-0.8,1.65],[-0.73,1.65],[-0.65,1.65],[-0.58,1.65],
[-2.87,1.49],[-2.47,1.52],[-2.21,1.52],[-1.53,1.52],[-1.3,1.48],[-1.2,1.49],[-1.13,1.47],[-1.08,1.49],[-1.03,1.5],[-0.98,1.51],[-0.9,1.52],[-1.08,1.46],[-1,1.48],[-1.15,1.48],[-1.1,1.5],[-1.05,1.47],[-0.73,1.52],[-0.65,1.53],[-0.58,1.52],[-0.68,1.5],[-0.7,1.51],[-1.12,1.47],[-1.02,1.49],[-0.95,1.5],
[0.85,1.53],[0.9,1.54],[0.83,1.5],[0.75,1.49],[0.87,1.5],[1.14,1.52],[1.4,1.55],[1.41,1.46],[-0.63,1.4],[-0.7,1.38],
[-1.38,1.33],[-1.3,1.34],[-1.23,1.33],[-1.15,1.34],[-1.08,1.33],[-1,1.33],[-0.93,1.34],[-0.85,1.33],[-0.78,1.34],[-0.7,1.33],[-0.65,1.32],[-0.72,1.31],[-1.12,1.32],[-1.05,1.35],[-0.88,1.35],[-0.75,1.35],[-0.98,1.32],[0.6,1.38],[0.65,1.37],[0.57,1.33],[0.85,1.34]];

// Trophozoite vs Schizont, not significant
const nsC = [[-0.42,1.71],[0.25,1.63],[0.33,1.65],[0.4,1.65],[-0.27,1.6],[-0.6,1.52],[-0.5,1.55],[-0.42,1.49],[-0.3,1.47],[-0.2,1.49],[-0.5,1.46],[-0.45,1.4],[-0.42,1.37],[-0.35,1.36],[-0.3,1.34],
[0.24,1.53],[0.3,1.53],[0.36,1.53],[0.42,1.53],[0.48,1.53],[0.54,1.53],[0.26,1.5],[0.32,1.5],[0.38,1.5],[0.44,1.5],[0.5,1.5],[0.3,1.47],[0.36,1.47],[0.42,1.47],[0.48,1.47],[0.33,1.44],[0.39,1.44],[0.45,1.44],[0.36,1.41],[0.42,1.41],[0.5,1.38],[0.45,1.35],[0.38,1.34],[0.5,1.32],[0.42,1.31],
[-1.58,1.24],[-1.3,1.22],[-1.18,1.24],[-0.95,1.22],[-0.6,1.25],[-0.55,1.22],[0.15,1.2],[0.28,1.22],[0.38,1.22],[0.46,1.24],[0.52,1.19],[0.58,1.22],[0.68,1.23],[1.05,1.2],[1.28,1.19],[1.5,1.21],[1.8,1.3],
[-2.37,1.14],[-1.93,1.13],[-1.5,1.16],[-1.18,1.15],[-1.16,1.12],[-1.14,1.1],[-1.18,1.08],[-0.85,1.15],[-0.83,1.07],[-0.7,1.12],[-0.58,1.12],[-0.52,1.12],[-0.47,1.1],[-0.42,1.13],[0.3,1.15],[0.36,1.15],[0.4,1.12],[0.46,1.15],[0.34,1.1],[0.4,1.08],[0.46,1.1],[0.58,1.12],[0.7,1.14],[0.78,1.16],[0.98,1.16],
[-1.93,1.03],[-2.38,0.99],[-1.9,1.1],[-1.53,0.98],[-1.5,1.04],[-1.13,1.03],[-1,1],[-0.9,1.03],[-0.78,1.05],[-0.72,1.02],[-0.58,1.04],[-0.53,1.02],[-0.47,1.05],[-0.43,0.98],[-0.35,1],[-0.22,1],[0.32,1.02],[0.38,1.02],[0.44,1],[0.3,0.97],[0.36,0.98],[0.42,0.96],[0.5,0.98],[0.62,1],[0.7,0.97],[0.8,0.99],[1.04,1.02],[1.2,0.97],[1.23,0.99],[1.27,0.95],
[-2.25,0.9],[-2.05,0.94],[-1.75,0.95],[-1.6,0.93],[-1.48,0.92],[-1.35,0.96],[-1.1,0.95],[-1.05,0.93],[-0.95,0.92],[-0.85,0.94],[-0.72,0.92],[-0.62,0.95],[-0.54,0.9],[-0.47,0.93],[-0.4,0.89],[-0.28,0.92],[0.25,0.9],[0.3,0.92],[0.36,0.9],[0.42,0.92],[0.56,0.9],[0.68,0.9],[0.78,0.93],[0.95,0.93],[1.3,0.88],[1.82,0.95],
[-1.98,0.85],[-1.74,0.84],[-1.28,0.8],[-0.98,0.85],[-0.87,0.85],[-0.78,0.84],[-0.7,0.85],[-0.62,0.83],[-0.55,0.85],[-0.47,0.84],[-0.38,0.83],[-0.3,0.86],[0.2,0.85],[0.28,0.83],[0.34,0.85],[0.42,0.82],[0.5,0.84],[0.6,0.83],[0.7,0.84],[0.8,0.85],[0.95,0.85],[1.02,0.82],[1.1,0.85],[1.15,0.82],[1.61,0.8],[2.05,0.78],
[-1.45,0.78],[-1.35,0.76],[-1.25,0.76],[-1.17,0.74],[-1.15,0.75],[-0.95,0.78],[-0.72,0.75],[-0.64,0.77],[-0.58,0.74],[-0.5,0.77],[-0.43,0.73],[-0.36,0.76],[-0.3,0.73],[0.22,0.76],[0.3,0.75],[0.36,0.77],[0.44,0.74],[0.52,0.76],[0.62,0.74],[0.72,0.76],[0.82,0.74],[0.92,0.75],[1,0.76],[1.1,0.73],[-0.72,0.68],[-0.64,0.68],[-0.56,0.66],[-0.48,0.69],[-0.4,0.66],[-0.33,0.68],[0.18,0.68],[0.26,0.67],[0.34,0.69],[0.42,0.66],[0.5,0.68],[0.6,0.66],[0.72,0.68],[0.82,0.66],
[-1.7,0.68],[-1.45,0.66],[-1.1,0.7],[-1.03,0.67],[-0.95,0.71],[-0.85,0.66],[-1.38,0.61],[-1.2,0.6],[-1.15,0.65],[-1.12,0.6],[-1.05,0.62],[-0.92,0.62],[-0.8,0.62],[-0.7,0.6],[-0.62,0.62],[-0.55,0.6],[-0.47,0.62],[-0.4,0.59],[-0.32,0.6],[-0.24,0.61],[0.14,0.6],[0.22,0.61],[0.3,0.59],[0.38,0.62],[0.46,0.6],[0.54,0.62],[0.62,0.6],[0.7,0.62],[0.78,0.62],[0.88,0.62],[0.96,0.62],[1.22,0.66],[1.54,0.6],[1.34,0.5],
[-1.6,0.52],[-1.93,0.57],[-1.98,0.52],[-2.1,0.45],[-1.4,0.5],[-1.25,0.55],[-1.05,0.52],[-0.95,0.52],[-0.85,0.54],[-0.75,0.52],[-0.66,0.53],[-0.58,0.51],[-0.5,0.53],[-0.43,0.5],[-0.35,0.52],[-0.28,0.5],[-0.2,0.52],[0.12,0.52],[0.2,0.51],[0.28,0.53],[0.36,0.5],[0.44,0.52],[0.52,0.5],[0.6,0.52],[0.66,0.5],[0.75,0.52],[0.82,0.5],[0.92,0.5],[1.02,0.52],[1.1,0.47],
[-2.45,0.43],[-2.3,0.43],[-2.07,0.42],[-2.02,0.38],[-1.75,0.41],[-1.62,0.42],[-1.5,0.39],[-1.35,0.43],[-1.2,0.41],[-1.1,0.44],[-0.98,0.4],[-0.85,0.44],[-0.72,0.42],[-0.63,0.44],[-0.55,0.42],[-0.48,0.44],[-0.42,0.41],[-0.35,0.43],[-0.28,0.41],[-0.2,0.43],[-0.14,0.41],[0.1,0.42],[0.16,0.44],[0.24,0.42],[0.32,0.44],[0.4,0.41],[0.48,0.43],[0.56,0.41],[0.64,0.43],[0.72,0.4],[0.82,0.42],[0.93,0.43],[1.05,0.39],
[-2.1,0.33],[-1.95,0.3],[-1.8,0.33],[-1.65,0.3],[-1.55,0.33],[-1.42,0.3],[-1.3,0.33],[-1.2,0.3],[-1.1,0.33],[-1,0.3],[-0.88,0.33],[-0.76,0.31],[-0.66,0.34],[-0.58,0.32],[-0.5,0.34],[-0.44,0.31],[-0.38,0.33],[-0.32,0.3],[-0.26,0.33],[-0.2,0.3],[-0.15,0.32],[-0.1,0.34],[0.06,0.32],[0.12,0.34],[0.18,0.31],[0.26,0.33],[0.32,0.3],[0.4,0.33],[0.5,0.31],[0.58,0.33],[0.7,0.31],[0.8,0.33],
[-2.3,0.2],[-2.2,0.23],[-2.1,0.2],[-2,0.16],[-1.85,0.22],[-1.75,0.25],[-1.65,0.2],[-1.55,0.24],[-1.45,0.19],[-1.35,0.23],[-1.25,0.2],[-1.15,0.24],[-1.05,0.2],[-0.95,0.23],[-0.82,0.2],[-0.7,0.23],[-0.6,0.2],[-0.52,0.23],[-0.45,0.2],[-0.38,0.23],[-0.32,0.2],[-0.26,0.23],[-0.2,0.2],[-0.15,0.23],[-0.1,0.2],[-0.06,0.23],[0.03,0.22],[0.08,0.2],[0.14,0.23],[0.2,0.2],[0.26,0.23],[0.34,0.2],[0.42,0.22],[0.5,0.2],[0.62,0.22],[0.66,0.25],[0.78,0.26],
[-2.85,0.25],[-2.85,0.18],[-3.25,0.17],[-2.4,0.17],[-2.55,0.13],[-1.75,0.13],[-1.6,0.16],[-1.45,0.12],[-1.3,0.15],[-1.15,0.14],[-1,0.12],[-0.85,0.15],[-0.72,0.12],[-0.62,0.15],[-0.5,0.13],[-0.42,0.15],[-0.35,0.13],[-0.28,0.15],[-0.22,0.13],[-0.16,0.15],[-0.1,0.13],[-0.05,0.15],[0,0.14],[0.05,0.13],[0.1,0.15],[0.16,0.13],[0.22,0.15],[0.3,0.13],[0.4,0.14],[0.55,0.15],
[-2.65,0.07],[-1.58,0.03],[-1.33,0.05],[-1.3,0.1],[-1,0.02],[-0.65,0.05],[-0.5,0.08],[-0.42,0.05],[-0.35,0.07],[-0.28,0.05],[-0.22,0.08],[-0.18,0.05],[-0.14,0.08],[-0.1,0.04],[-0.07,0.07],[-0.04,0.02],[-0.02,0.06],[0.01,0.02],[0.04,0.05],[0.07,0.02],[0.1,0.06],[0.14,0.03],[0.18,0.06],[0.22,0.08],[0.3,0.07],[0.42,0.06],[0.5,0.05],[0.62,0.04],
[-0.15,0.01],[-0.12,0.02],[-0.08,0],[-0.05,0.01],[-0.02,0],[0.01,0.01],[0.04,0],[0.07,0.01],[0.1,0],[-0.2,0.1],[-0.16,0.11],[-0.12,0.1],[-0.08,0.11],[-0.04,0.1],[0,0.1],[0.04,0.1],[0.08,0.11],[0.12,0.1],[-0.28,0.28],[-0.22,0.27],[-0.18,0.28],[-0.14,0.27],[0.08,0.27],[0.14,0.28],[0.2,0.27],[-0.36,0.38],[-0.3,0.38],[-0.26,0.37],[-0.22,0.38],[0.14,0.38],[0.2,0.38],[0.26,0.37],[-0.45,0.48],[-0.4,0.47],[-0.35,0.48],[-0.3,0.47],[0.18,0.47],[0.24,0.48],[0.3,0.47],
[-0.52,0.58],[-0.46,0.57],[-0.4,0.58],[-0.36,0.57],[0.2,0.56],[0.26,0.57],[0.32,0.56],[-0.55,0.72],[-0.5,0.71],[-0.44,0.72],[0.28,0.71],[0.34,0.72],[0.4,0.71],[-0.58,0.98],[-0.52,0.97],[-0.48,0.98],[-0.55,1.08],[-0.5,1.07],[0.34,1.05],[0.4,1.04],[0.44,1.06],[0.34,0.94],[0.4,0.93],[0.46,0.94],[0.38,1.15],[0.44,1.18],[0.42,1.25],[0.36,1.28],[0.48,1.27],
[-5.43,0.36],[6.31,0.35],[2.92,0.15],[-3.3,0.8],[1.64,0.33],[1.12,0.12]];

// dense part of the Trophozoite vs Schizont cloud, the two arms of the V
const coreC = [[-0.11,0.04],[-0.06,0.04],[-0.01,0.03],[0.04,0.04],[0.08,0.04],[-0.16,0.07],[-0.11,0.07],[-0.05,0.06],[0,0.07],[0.05,0.07],[0.11,0.08],[-0.2,0.13],[-0.14,0.12],[-0.08,0.13],[0.07,0.12],[0.13,0.12],[0.17,0.13],[-0.24,0.17],[-0.18,0.17],[-0.12,0.18],[0.08,0.17],[0.13,0.18],[0.19,0.17],[0.25,0.18],[-0.3,0.22],[-0.24,0.22],[-0.18,0.21],[-0.12,0.22],[0.1,0.22],[0.16,0.23],[0.22,0.22],[0.28,0.21],
[-0.34,0.26],[-0.28,0.25],[-0.22,0.26],[-0.16,0.25],[0.12,0.26],[0.18,0.25],[0.24,0.26],[-0.4,0.32],[-0.34,0.31],[-0.28,0.32],[-0.22,0.31],[-0.17,0.32],[0.14,0.31],[0.19,0.32],[0.25,0.31],[0.31,0.32],[-0.44,0.36],[-0.38,0.36],[-0.32,0.35],[-0.26,0.36],[-0.2,0.36],[0.16,0.36],[0.22,0.36],[0.28,0.35],[-0.48,0.42],[-0.42,0.42],[-0.36,0.41],[-0.3,0.42],[-0.24,0.42],[0.18,0.42],[0.24,0.41],[0.3,0.42],[0.36,0.42],
[-0.52,0.46],[-0.46,0.46],[-0.4,0.46],[-0.34,0.45],[-0.27,0.46],[0.2,0.46],[0.26,0.45],[0.32,0.46],[-0.56,0.52],[-0.5,0.51],[-0.44,0.52],[-0.38,0.51],[-0.32,0.52],[0.22,0.52],[0.28,0.51],[0.34,0.52],[-0.6,0.56],[-0.54,0.56],[-0.48,0.55],[-0.42,0.56],[-0.36,0.55],[0.24,0.56],[0.3,0.55],[0.36,0.56],[-0.62,0.61],[-0.56,0.62],[-0.5,0.61],[-0.44,0.62],[-0.38,0.61],[0.25,0.62],[0.31,0.61],[0.37,0.62],[-0.6,0.67],[-0.54,0.67],[-0.48,0.66],[-0.42,0.67],[0.27,0.66],[0.33,0.67],[0.39,0.66],
[-0.62,0.72],[-0.55,0.74],[-0.48,0.73],[-0.42,0.71],[0.3,0.72],[0.36,0.73],[0.42,0.72],[-0.6,0.8],[-0.54,0.79],[-0.46,0.8],[0.32,0.79],[0.38,0.8],[0.44,0.79],[-0.58,0.87],[-0.52,0.88],[-0.45,0.87],[0.33,0.87],[0.39,0.88],[0.45,0.87],[-0.56,0.93],[-0.5,0.94],[0.35,0.91],[0.41,0.9],[0.37,0.96],[0.43,0.97],[-0.52,1.03],[-0.56,1],[0.36,1],[0.42,1.01],[-0.54,1.1],[-0.49,1.13],[0.37,1.07],[0.43,1.08],[0.37,1.12],[0.43,1.13],[-0.56,1.15],[0.39,1.17],[0.45,1.21],[0.4,1.22],
[-2.2,0.26],[-2.05,0.24],[-1.95,0.26],[-1.85,0.28],[-1.75,0.3],[-1.65,0.27],[-1.55,0.28],[-1.45,0.26],[-1.35,0.28],[-1.25,0.26],[-2.15,0.17],[-1.95,0.2],[-1.8,0.18],[-1.65,0.15],[-1.55,0.19],[-1.4,0.16],[-1.25,0.17],[-1.05,0.26],[-0.9,0.27],[-0.8,0.28],[-0.7,0.27],[-0.6,0.27],[-1,0.36],[-0.85,0.37],[-0.72,0.36],[-0.62,0.37],[-0.55,0.36],[-0.8,0.48],[-0.7,0.47],[-0.62,0.48],[-0.55,0.47],[-1.05,0.46],[-0.92,0.46],[-0.8,0.56],[-0.7,0.56],[-1,0.57],[-0.8,0.7],[-0.7,0.72],[-0.9,0.74],[-0.75,0.8],[-0.68,0.9],[-0.78,0.98],[-0.68,1.08],[-1,1.1],[0.48,0.24],[0.55,0.26],[0.4,0.27],[0.48,0.36],[0.56,0.37],[0.66,0.36],[0.45,0.47],[0.56,0.47],[0.65,0.46],[0.75,0.46],[0.5,0.56],[0.58,0.57],[0.7,0.56],[0.55,0.7],[0.65,0.72],[0.78,0.7],[0.52,0.78],[0.62,0.79],[0.75,0.8],[0.55,0.94],[0.62,0.95],[0.52,1.04],[0.62,1.06],[1.05,0.74],[0.9,0.68],
[-0.14,0.02],[-0.09,0.06],[-0.03,0.05],[0.02,0.06],[0.06,0.09],[-0.13,0.15],[-0.07,0.16],[-0.02,0.13],[0.03,0.16],[-0.18,0.19],[-0.1,0.2],[-0.26,0.19],[-0.2,0.24],[-0.14,0.21],[0.05,0.18],[0.11,0.2],[0.17,0.2],[-0.3,0.27],[-0.25,0.29],[-0.19,0.3],[0.09,0.25],[0.15,0.3],[0.22,0.29],[-0.36,0.33],[-0.31,0.35],[-0.25,0.34],[-0.19,0.34],[0.1,0.34],[0.17,0.34],[0.24,0.35],[-0.41,0.39],[-0.35,0.4],[-0.28,0.4],[-0.21,0.4],[0.12,0.4],[0.2,0.4],[0.27,0.4],[-0.45,0.44],[-0.38,0.44],[-0.31,0.44],[-0.24,0.45],[0.15,0.46],[0.22,0.44],[0.29,0.44],[-0.48,0.5],[-0.41,0.49],[-0.35,0.5],[-0.28,0.5],[0.16,0.5],[0.24,0.5],[0.31,0.5],[-0.57,0.59],[-0.5,0.59],[-0.44,0.58],[-0.37,0.59],[0.2,0.58],[0.27,0.59],[0.33,0.59],[-0.6,0.64],[-0.52,0.64],[-0.46,0.64],[-0.4,0.64],[0.23,0.64],[0.3,0.64],[0.36,0.64],[-0.65,0.7],[-0.58,0.7],[-0.5,0.69],[-0.45,0.69],[0.24,0.69],[0.3,0.7],[0.37,0.69],[-0.66,0.77],[-0.58,0.77],[-0.5,0.76],[0.28,0.77],[0.34,0.77],[0.41,0.77],[-0.63,0.84],[-0.56,0.83],[-0.49,0.83],[0.3,0.82],[0.36,0.84],[0.42,0.84],[-0.6,0.9],[-0.53,0.91],[-0.47,0.9],[0.33,0.91],[0.38,0.92],[0.45,0.91],[-0.58,0.95],[-0.5,1],[-0.54,1.05],[0.38,0.99],[0.4,1.03],[0.41,1.1],[0.41,1.15],[0.43,1.2],[-0.6,1.02],[-0.56,1.12]];

// draws the R style box around the plot area, panel B runs off the page on the right
const boxFrame = {
  id: 'boxFrame',
  afterDraw(chart, args, opts) {
    const a = chart.chartArea;
    const c = chart.ctx;
    c.save();
    c.strokeStyle = '#333';
    c.lineWidth = 3;
    c.beginPath();
    c.rect(a.left, a.top, a.right - a.left, a.bottom - a.top);
    c.stroke();
    c.restore();
  }
};

function cutLine(points) {
  return { type: 'line', data: points, borderColor: '#000', borderWidth: 3, borderDash: [3, 3], pointRadius: 0, fill: false };
}

function volcano(id, sig, ns, cfg) {
  new Chart(document.getElementById(id), {
    type: 'scatter',
    data: {
      datasets: [
        cutLine([{ x: cfg.xMin, y: pCut }, { x: cfg.xMax, y: pCut }]),
        cutLine([{ x: -fcCut, y: cfg.yMin }, { x: -fcCut, y: cfg.yMax }]),
        cutLine([{ x: fcCut, y: cfg.yMin }, { x: fcCut, y: cfg.yMax }]),
        {
          data: sig.map(p => ({ x: p[0], y: p[1] })),
          backgroundColor: 'rgba(170,70,225,0.45)',
          borderWidth: 0,
          pointRadius: 4.1
        },
        {
          data: ns.map(p => ({ x: p[0], y: p[1] })),
          backgroundColor: 'rgba(20,20,20,0.5)',
          borderWidth: 0,
          pointRadius: 3.5
        }
      ]
    },
    plugins: [boxFrame],
    options: {
      responsive: false,
      animation: false,
      events: [],
      layout: { padding: cfg.padding },
      plugins: {
        legend: { display: false },
        tooltip: { enabled: false }
      },
      scales: {
        x: {
          type: 'linear',
          min: cfg.xMin,
          max: cfg.xMax,
          afterBuildTicks: s => { s.ticks = cfg.xTicks.map(v => ({ value: v })); },
          afterFit: s => { s.height = cfg.xAxisHeight; s.paddingLeft = 0; s.paddingRight = 0; },
          grid: { drawOnChartArea: false, tickLength: 7, tickWidth: 2, tickColor: '#444' },
          border: { display: false },
          ticks: { autoSkip: false, maxRotation: 0, padding: 6, color: '#444', font: { family: 'Liberation Sans', size: 16 }, callback: v => String(v) }
        },
        y: {
          type: 'linear',
          min: cfg.yMin,
          max: cfg.yMax,
          afterBuildTicks: s => { s.ticks = cfg.yTicks.map(v => ({ value: v })); },
          afterFit: s => { s.width = cfg.yAxisWidth; s.paddingTop = 0; s.paddingBottom = 0; },
          grid: { drawOnChartArea: false, tickLength: 7, tickWidth: 2, tickColor: '#444' },
          border: { display: false },
          ticks: { autoSkip: false, minRotation: 90, maxRotation: 90, crossAlign: 'center', padding: 3, color: '#444', font: { family: 'Liberation Sans', size: 16 }, callback: v => v.toFixed(1) }
        }
      }
    }
  });
}

volcano('chartA', sigA, nsA.concat(coreA), {
  xMin: -7.457, xMax: 6.11, yMin: -0.124, yMax: 3.06,
  xTicks: xTicksA, yTicks: yTicksA, yAxisWidth: 107, xAxisHeight: 65,
  padding: { left: 0, right: 18, top: 28, bottom: 0 }
});
// the plot box of panel B is wider than the page, so its right side is cut off as in the figure
volcano('chartB', sigB, nsB.concat(coreB), {
  xMin: -6.31, xMax: 7.25, yMin: -0.077, yMax: 2.02,
  xTicks: xTicksB, yTicks: yTicksB, yAxisWidth: 89, xAxisHeight: 67,
  padding: { left: 0, right: 0, top: 29, bottom: 0 }
});
volcano('chartC', sigC, nsC.concat(coreC), {
  xMin: -5.87, xMax: 6.79, yMin: -0.105, yMax: 2.66,
  xTicks: xTicksC, yTicks: yTicksC, yAxisWidth: 78, xAxisHeight: 66,
  padding: { left: 0, right: 40, top: 28, bottom: 0 }
});
</script>
</body>
</html>
